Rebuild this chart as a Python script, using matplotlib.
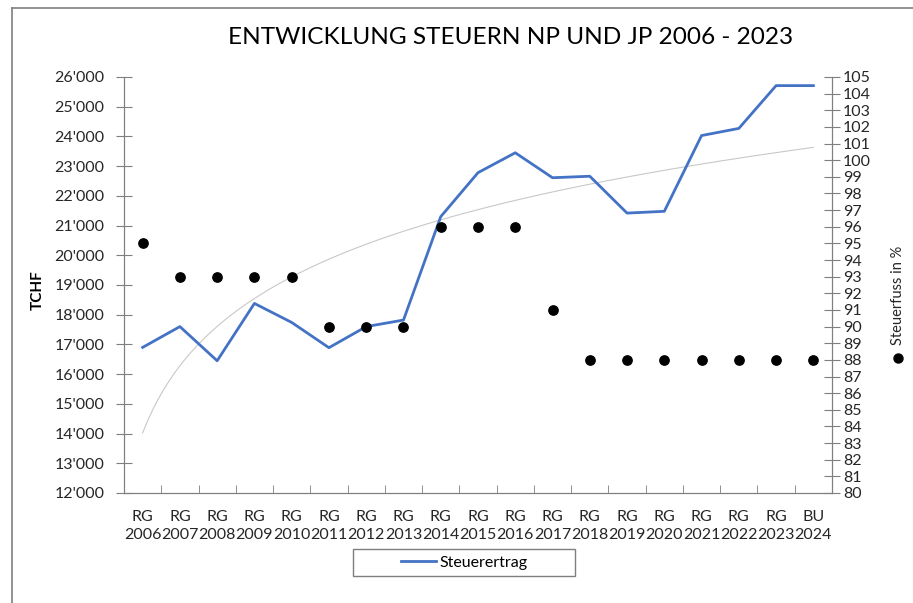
import numpy as np
import matplotlib.pyplot as plt
from matplotlib.lines import Line2D
from matplotlib.patches import Rectangle
from matplotlib.ticker import FuncFormatter

plt.rcParams['font.family'] = ['Lato', 'DejaVu Sans']

labels = ['RG\n2006', 'RG\n2007', 'RG\n2008', 'RG\n2009', 'RG\n2010', 'RG\n2011',
          'RG\n2012', 'RG\n2013', 'RG\n2014', 'RG\n2015', 'RG\n2016', 'RG\n2017',
          'RG\n2018', 'RG\n2019', 'RG\n2020', 'RG\n2021', 'RG\n2022', 'RG\n2023',
          'BU\n2024']
ertrag = [16900, 17600, 16450, 18380, 17740, 16890, 17600, 17820, 21300, 22780,
          23450, 22610, 22660, 21420, 21480, 24030, 24270, 25710, 25710]
steuerfuss = [95, 93, 93, 93, 93, 90, 90, 90, 96, 96, 96, 91, 88, 88, 88, 88, 88, 88, 88]

x = np.arange(len(labels))

fig = plt.figure(figsize=(9.13, 6.03), dpi=100)
ax = fig.add_axes([124/913, 1-493/603, (832-124)/913, (493-77)/603])
ax2 = ax.twinx()

# logarithmic trendline (like the Excel one), fitted on the data
b, a = np.polyfit(np.log(x + 1), ertrag, 1)
xs = np.linspace(0, len(labels) - 1, 300)
ax.plot(xs, a + b*np.log(xs + 1), color='#c8c8c8', lw=0.8, zorder=1)
ax.plot(x, ertrag, color='#4472c4', lw=2, zorder=3)
ax2.scatter(x, steuerfuss, s=45, color='black', zorder=4)

gray = '#7f7f7f'
ax.set_xlim(-0.5, len(labels) - 0.5)
ax.set_ylim(12000, 26000)
ax.set_yticks(np.arange(12000, 26001, 1000))
ax.yaxis.set_major_formatter(FuncFormatter(lambda v, p: format(int(v), ',').replace(',', "'")))
ax2.set_ylim(80, 105)
ax2.set_yticks(np.arange(80, 106, 1))

ax.set_xticks(x)
ax.set_xticklabels(labels, fontsize=11.5, color='#262626', linespacing=1.35)
ax.set_xticks(np.arange(-0.5, len(labels), 1), minor=True)
ax.tick_params(axis='x', which='major', length=0, pad=12)
ax.tick_params(axis='x', which='minor', direction='in', length=6, color=gray)
ax.tick_params(axis='y', direction='inout', length=12, color=gray, labelsize=11.5,
               labelcolor='#262626', pad=8)
ax2.tick_params(axis='y', direction='inout', length=12, color=gray, labelsize=11.5,
                labelcolor='#262626', pad=2)

for a_ in (ax, ax2):
    a_.spines['top'].set_visible(False)
    for s in ('left', 'right', 'bottom'):
        a_.spines[s].set_color(gray)

fig.text(511/913, 1-38/603, 'ENTWICKLUNG STEUERN NP UND JP 2006 - 2023',
         ha='center', va='center', fontsize=17.6, color='black')
fig.text(38/913, 1-290/603, 'TCHF', rotation=90, ha='center', va='center',
         fontsize=11, fontweight='bold')
fig.text(898/913, 1-295/603, 'Steuerfuss in %', rotation=90, ha='center',
         va='center', fontsize=10.5, color='#262626')
fig.add_artist(Line2D([898/913], [1-358/603], marker='o', markersize=6.5,
                      color='black', lw=0))

# legend box
fig.add_artist(Rectangle((353/913, 1-576/603), 222/913, 27/603,
                         transform=fig.transFigure, fill=False, edgecolor=gray, lw=1))
ax.legend(handles=[Line2D([], [], color='#4472c4', lw=2, label='Steuerertrag')],
          loc='center', bbox_to_anchor=(464/913, 1-562.5/603),
          bbox_transform=fig.transFigure, fontsize=11.5, frameon=False,
          handlelength=2.2, handletextpad=0.2, borderpad=0, borderaxespad=0)

# outer chart frame (left and top visible)
fig.add_artist(Line2D([12/913, 12/913], [0, 1-8/603], color=gray, lw=1.2))
fig.add_artist(Line2D([12/913, 1], [1-8/603, 1-8/603], color=gray, lw=1.2))

fig.savefig('out.png', dpi=100)
